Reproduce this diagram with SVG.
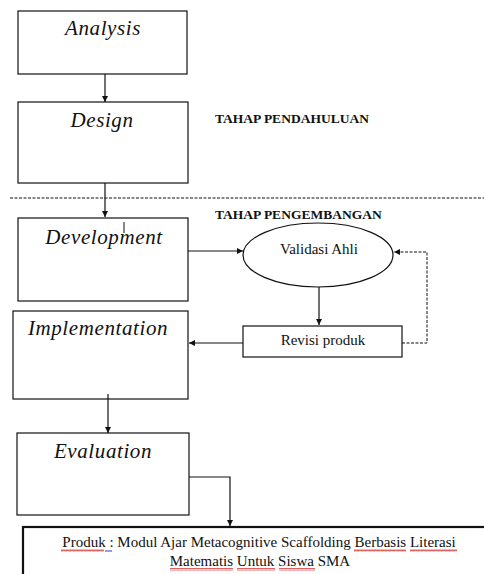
<svg xmlns="http://www.w3.org/2000/svg" width="484" height="574" viewBox="0 0 484 574">
<style>
.box{fill:#fff;stroke:#111;stroke-width:1.2}
.lbl{font-family:"Liberation Serif",serif;font-style:italic;font-size:21px;letter-spacing:0.6px;fill:#111;text-anchor:middle}
.txt{font-family:"Liberation Serif",serif;font-size:15px;fill:#111;text-anchor:middle}
.hd{font-family:"Liberation Serif",serif;font-weight:bold;font-size:13.5px;fill:#111}
.ln{fill:none;stroke:#111;stroke-width:1.2}
.dash{fill:none;stroke:#111;stroke-width:1;stroke-dasharray:3 1.5}
.squig{fill:url(#wave)}
</style>
<defs>
<marker id="ah" viewBox="0 0 10 10" refX="10" refY="5" markerWidth="6" markerHeight="6" markerUnits="userSpaceOnUse" orient="auto">
<path d="M0,0 L10,5 L0,10 Z" fill="#111"/>
</marker>
<pattern id="wave" width="4" height="3" patternUnits="userSpaceOnUse">
<path d="M0,2.5 L1,0.5 L2,2.5 L3,0.5 L4,2.5" fill="none" stroke="#d02020" stroke-width="0.7"/>
</pattern>
</defs>
<rect width="484" height="574" fill="#fff"/>

<g id="analysis">
<rect class="box" x="18" y="11" width="169" height="63"/>
<text class="lbl" x="103" y="35">Analysis</text>
</g>
<g id="design">
<rect class="box" x="18" y="102" width="170" height="81"/>
<text class="lbl" x="102" y="127">Design</text>
</g>
<g id="development">
<rect class="box" x="18" y="218" width="170" height="83"/>
<text class="lbl" x="104" y="244">Development</text>
<line x1="124" y1="222" x2="124" y2="233" stroke="#111" stroke-width="1"/>
</g>
<g id="implementation">
<rect class="box" x="13" y="311" width="175" height="88"/>
<text class="lbl" x="98" y="335">Implementation</text>
</g>
<g id="evaluation">
<rect class="box" x="17" y="433" width="172" height="82"/>
<text class="lbl" x="103" y="458">Evaluation</text>
</g>
<g id="validasi">
<ellipse class="box" cx="318" cy="255" rx="75" ry="32"/>
<text class="txt" x="319" y="254" font-size="14.5">Validasi Ahli</text>
</g>
<g id="revisi">
<rect class="box" x="243" y="326" width="159" height="31"/>
<text class="txt" x="323" y="345">Revisi produk</text>
</g>
<g id="produk">
<rect x="23" y="527" width="480" height="70" fill="#fff" stroke="#111" stroke-width="2.2"/>
<text class="txt" x="259" y="547">Produk : Modul Ajar Metacognitive Scaffolding Berbasis Literasi</text>
<text class="txt" x="260" y="566">Matematis Untuk Siswa SMA</text>
<rect class="squig" x="61" y="549" width="43" height="3"/>
<line x1="105" y1="551" x2="112" y2="551" stroke="#2040c0" stroke-width="1"/>
<rect class="squig" x="354" y="549" width="52" height="3"/>
<rect class="squig" x="410" y="549" width="47" height="3"/>
<rect class="squig" x="170" y="568" width="63" height="3"/>
<rect class="squig" x="237" y="568" width="38" height="3"/>
<rect class="squig" x="279" y="568" width="36" height="3"/>
</g>
<g id="labels">
<text class="hd" x="215" y="123">TAHAP PENDAHULUAN</text>
<text class="hd" x="215" y="219">TAHAP PENGEMBANGAN</text>
</g>

<g id="connectors">
<line class="ln" x1="105" y1="74" x2="105" y2="102" marker-end="url(#ah)"/>
<line class="ln" x1="105" y1="183" x2="105" y2="217" marker-end="url(#ah)"/>
<line class="dash" x1="10" y1="198" x2="484" y2="198"/>
<line class="ln" x1="188" y1="251" x2="243" y2="251" marker-end="url(#ah)"/>
<line class="ln" x1="319" y1="287" x2="319" y2="325" marker-end="url(#ah)"/>
<line class="ln" x1="243" y1="343" x2="189" y2="343" marker-end="url(#ah)"/>
<path class="dash" d="M402,343 H427 V252 H394" stroke-dasharray="2 1.2" marker-end="url(#ah)"/>
<line class="ln" x1="108" y1="394" x2="108" y2="433" marker-end="url(#ah)"/>
<path class="ln" d="M189,477 H230 V526" marker-end="url(#ah)"/>
</g>
</svg>
